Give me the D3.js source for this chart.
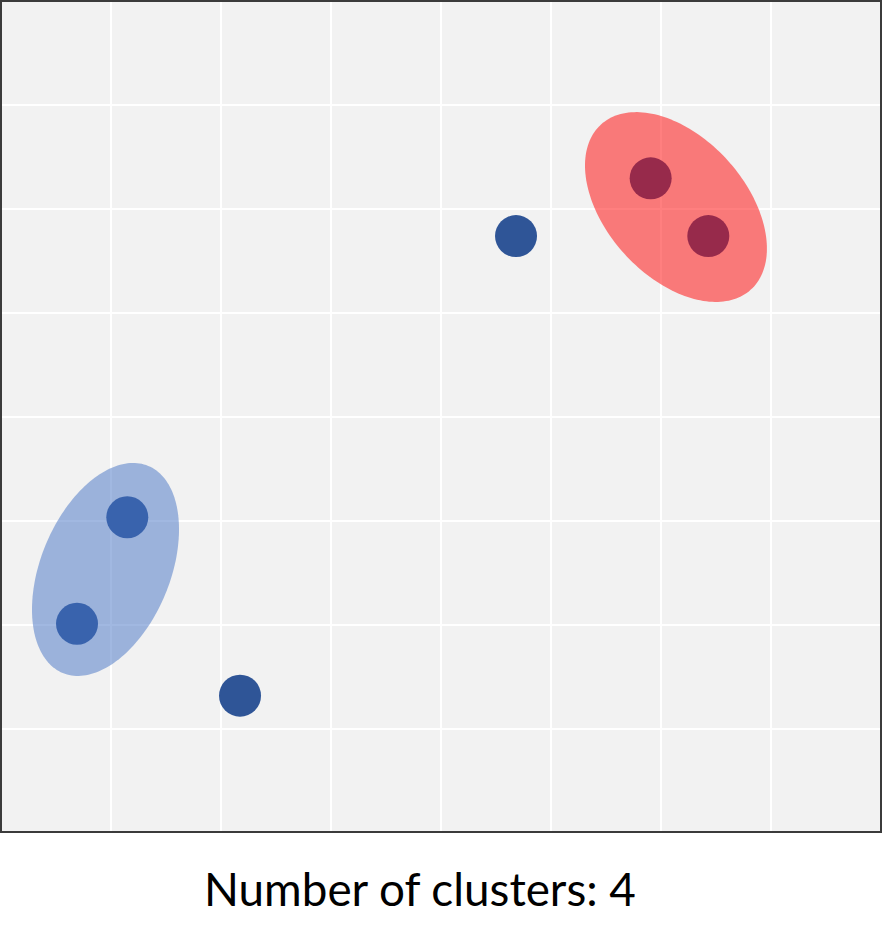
<!DOCTYPE html>
<html>
<head>
<meta charset="utf-8">
<script src="https://cdn.jsdelivr.net/npm/d3@7"></script>
<style>
  html, body { margin: 0; padding: 0; background: #ffffff; }
  svg { display: block; }
</style>
</head>
<body>
<svg id="chart" width="883" height="949"></svg>
<script>
// ---- data ----
const gridTicks = [0, 1, 2, 3, 4, 5, 6, 7, 8];
const pointX = [1.148, 0.691, 2.173, 4.682, 5.906, 6.430];
const pointY = [3.036, 2.012, 1.320, 5.740, 6.295, 5.740];
// cluster ellipses: center plus two semi-axis vectors, all in data units
const clusterName = ["blue", "red"];
const clusterCX = [0.950, 6.136];
const clusterCY = [2.534, 6.019];
const clusterUX = [0.388, 0.681];
const clusterUY = [0.996, -0.794];
const clusterVX = [0.544, -0.469];
const clusterVY = [-0.237, -0.450];
const titleText = "Number of clusters: 4";

// ---- layout ----
const svg = d3.select("#chart");
const x = d3.scaleLinear().domain([0, 8]).range([1, 881]);
const y = d3.scaleLinear().domain([0, 8]).range([833, 1]);

svg.append("rect")
  .attr("x", 1).attr("y", 1).attr("width", 880).attr("height", 831)
  .attr("fill", "#f2f2f2");

const grid = svg.append("g");
grid.selectAll("line.v").data(gridTicks.slice(1, -1)).enter().append("line")
  .attr("x1", d => x(d)).attr("x2", d => x(d))
  .attr("y1", 1).attr("y2", 832)
  .attr("stroke", "#ffffff").attr("stroke-width", 2);
grid.selectAll("line.h").data(gridTicks.slice(1, -1)).enter().append("line")
  .attr("y1", d => y(d)).attr("y2", d => y(d))
  .attr("x1", 1).attr("x2", 881)
  .attr("stroke", "#ffffff").attr("stroke-width", 2);

// points
const pts = pointX.map((v, i) => ({ x: v, y: pointY[i] }));
svg.append("g").selectAll("circle").data(pts).enter().append("circle")
  .attr("cx", d => x(d.x)).attr("cy", d => y(d.y))
  .attr("r", 21)
  .attr("fill", "#2f5597");

// ellipses (drawn on top, semi-transparent)
const fills = { blue: "#4472c4", red: "#ff0000" };
const line = d3.line().curve(d3.curveLinearClosed);
clusterName.forEach((name, i) => {
  const ptsE = d3.range(0, 360, 2).map(deg => {
    const t = deg * Math.PI / 180;
    const dx = clusterCX[i] + clusterUX[i] * Math.cos(t) + clusterVX[i] * Math.sin(t);
    const dy = clusterCY[i] + clusterUY[i] * Math.cos(t) + clusterVY[i] * Math.sin(t);
    return [x(dx), y(dy)];
  });
  svg.append("path")
    .attr("d", line(ptsE))
    .attr("fill", fills[name])
    .attr("fill-opacity", 0.5);
});

// frame
svg.append("rect")
  .attr("x", 1).attr("y", 1).attr("width", 880).attr("height", 831)
  .attr("fill", "none").attr("stroke", "#3b3b3b").attr("stroke-width", 2);

// title
const title = svg.append("text")
  .attr("x", 420).attr("y", 906)
  .attr("text-anchor", "middle")
  .attr("font-family", "Lato, 'Open Sans', sans-serif")
  .attr("font-size", 46)
  .attr("fill", "#000000")
  .text(titleText);
const w = title.node().getComputedTextLength();
title.attr("font-size", 46 * 432 / w);
</script>
</body>
</html>
